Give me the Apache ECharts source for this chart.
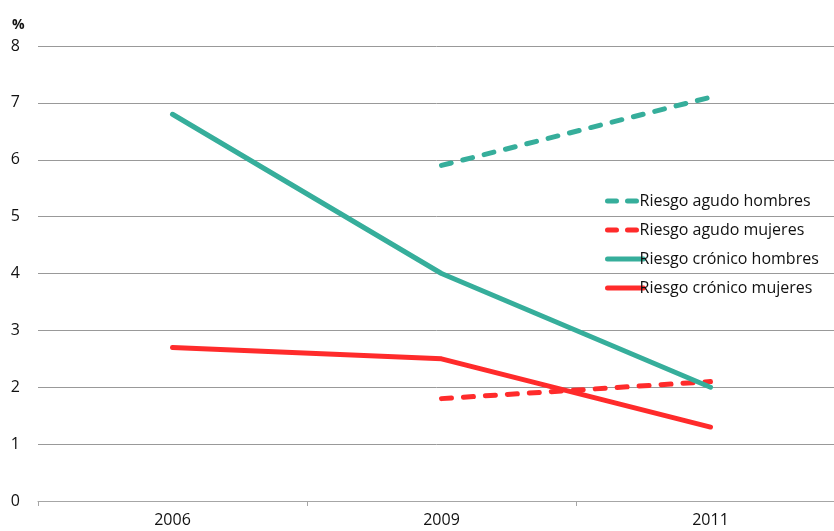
<!DOCTYPE html>
<html>
<head>
<meta charset="utf-8">
<script src="https://cdn.jsdelivr.net/npm/echarts@6/dist/echarts.min.js"></script>
<style>
  html, body { margin: 0; padding: 0; background: #fff; }
  #chart { width: 834px; height: 531px; }
</style>
</head>
<body>
<div id="chart"></div>
<script>
// Years on the horizontal axis
const years = ['2006', '2009', '2011'];
// Percentages per series (null = no survey value)
const agudoHombres = [null, 5.9, 7.1];
const agudoMujeres = [null, 1.8, 2.1];
const cronicoHombres = [6.8, 4.0, 2.0];
const cronicoMujeres = [2.7, 2.5, 1.3];
// Y axis range
const yMin = 0, yMax = 8, yStep = 1;

const TEAL = '#36ae9b';
const RED = '#ff2b2b';
const FONT = '"Open Sans", "Noto Sans", sans-serif';
const DASH = [10, 12];

function lineSeries(name, data, color, dashed) {
  return {
    name: name,
    type: 'line',
    data: data,
    symbol: 'none',
    connectNulls: false,
    lineStyle: {
      color: color,
      width: 5,
      type: dashed ? DASH : 'solid',
      cap: 'round'
    },
    itemStyle: { color: color }
  };
}

function legendItem(name, color, dashed) {
  return {
    name: name,
    itemStyle: { opacity: 0 },
    lineStyle: { color: color, width: 5, type: dashed ? [9, 11] : 'solid', cap: 'round' }
  };
}

const chart = echarts.init(document.getElementById('chart'), null, { renderer: 'canvas' });
chart.setOption({
  animation: false,
  backgroundColor: '#ffffff',
  grid: { left: 38, width: 807, top: 46, height: 455, outerBoundsMode: 'none', containLabel: false },
  legend: {
    orient: 'vertical',
    left: 600,
    top: 188,
    itemWidth: 36,
    itemHeight: 15,
    itemGap: 13,
    textStyle: { fontFamily: FONT, fontSize: 16, lineHeight: 15, color: '#111', padding: [0, 0, 0, -9] },
    data: [
      legendItem('Riesgo agudo hombres', TEAL, true),
      legendItem('Riesgo agudo mujeres', RED, true),
      legendItem('Riesgo crónico hombres', TEAL, false),
      legendItem('Riesgo crónico mujeres', RED, false)
    ]
  },
  xAxis: {
    type: 'category',
    data: years,
    boundaryGap: true,
    axisLine: { lineStyle: { color: '#a6a6a6', width: 1 } },
    axisTick: { show: true, length: 5, lineStyle: { color: '#a6a6a6' } },
    axisLabel: { fontFamily: FONT, fontSize: 16, color: '#111', margin: 11 }
  },
  yAxis: {
    type: 'value',
    min: yMin,
    max: yMax,
    interval: yStep,
    name: '%',
    nameLocation: 'end',
    nameGap: 14,
    nameTextStyle: { fontFamily: FONT, fontSize: 14, fontWeight: 'bold', color: '#111', align: 'left', padding: [0, 0, 0, -26] },
    axisLine: { show: false },
    axisTick: { show: false },
    axisLabel: { fontFamily: FONT, fontSize: 16, color: '#111', margin: 18, align: 'right' },
    splitLine: { lineStyle: { color: '#999999', width: 1 } }
  },
  series: [
    lineSeries('Riesgo agudo hombres', agudoHombres, TEAL, true),
    lineSeries('Riesgo agudo mujeres', agudoMujeres, RED, true),
    lineSeries('Riesgo crónico hombres', cronicoHombres, TEAL, false),
    lineSeries('Riesgo crónico mujeres', cronicoMujeres, RED, false)
  ]
});
</script>
</body>
</html>
